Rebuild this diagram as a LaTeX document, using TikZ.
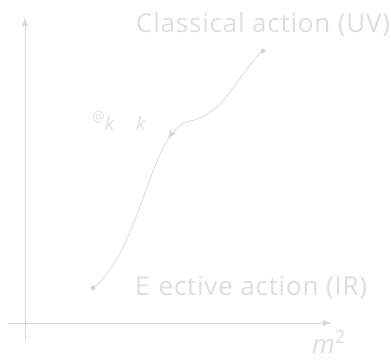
\documentclass[tikz,border=0pt]{standalone}
\usepackage{fontspec}
\setmainfont{Open Sans}[LetterSpace=3]
\usetikzlibrary{arrows.meta,decorations.markings}
\definecolor{RGLine}{HTML}{D6D6D6}
\definecolor{RGText}{HTML}{DEDEDE}
\tikzset{
  axis/.style={-{Latex[length=9pt,width=6pt]},RGLine,line width=0.9pt},
  flowline/.style={RGLine,line width=0.7pt,postaction={decorate},
    decoration={markings,mark=at position 0.44 with {\arrow{Stealth[length=10pt,width=7pt]}}}},
  dot/.style={circle,fill=RGLine,inner sep=0pt,minimum size=5pt},
  biglabel/.style={text=RGText,font=\fontsize{26}{30}\selectfont,inner sep=0pt,anchor=base west},
  flowlabel/.style={text=RGText,font=\fontsize{19}{22}\selectfont\itshape,inner sep=0pt,anchor=base west},
}

\begin{document}
\begin{tikzpicture}[x=1pt,y=1pt]
    \useasboundingbox (0,0) rectangle (391,360);
    % axes
    \coordinate (yfoot) at (25,21);
    \coordinate (ytop)  at (25,343);
    \coordinate (xfoot) at (8,37);
    \coordinate (xtip)  at (332,37);
    \draw[axis] (yfoot)--(ytop);
    \draw[axis] (xfoot)--(xtip);
    \node[biglabel,font=\fontsize{26}{30}\selectfont\itshape] (mlab) at (312,7) {m\textsuperscript{\upshape 2}};

    % end points of the flow
    \node[dot] (uv) at (263,309) {};
    \node[dot] (ir) at (93,72) {};
    \coordinate (bend) at (190,239);
    \node[biglabel] (uvlab) at (136,328) {Classical action (UV)};
    \node[biglabel] (irlab) at (135,65) {E\hspace{9pt}ective action (IR)};
    \node[flowlabel] (flab) at (92,230) {\raisebox{9pt}{\fontsize{14}{15}\selectfont\upshape @}k\hspace{22pt}k};

    \draw[flowline] (uv.center) .. controls (240,290) and (225,245) .. (bend)
                    .. controls (150,232) and (143,112) .. (ir.center);
  \end{tikzpicture}
\end{document}
